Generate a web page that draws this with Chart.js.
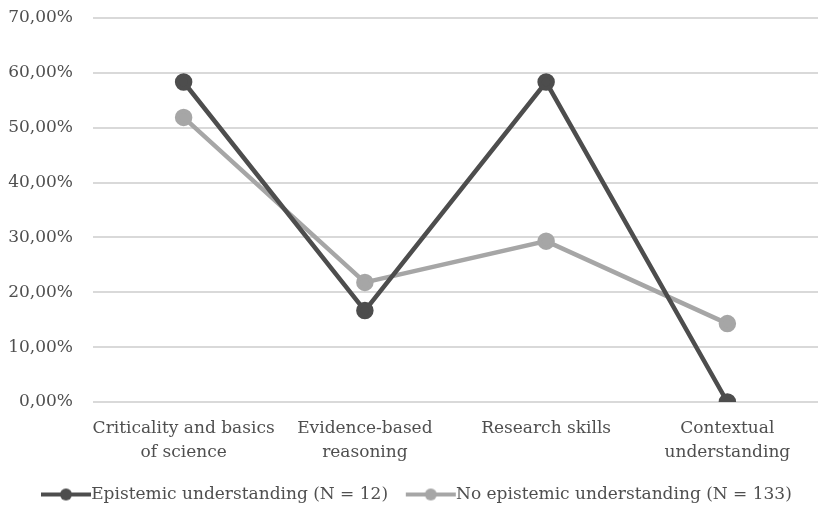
<!DOCTYPE html>
<html>
<head>
<meta charset="utf-8">
<script src="https://cdn.jsdelivr.net/npm/chart.js@4"></script>
<style>
  html, body { margin: 0; padding: 0; background: #ffffff; }
  #wrap { width: 818px; height: 509px; }
</style>
</head>
<body>
<div id="wrap"><canvas id="grafico"></canvas></div>
<script>
const categorias = [
    ['Criticality and basics', 'of science'],
    ['Evidence-based', 'reasoning'],
    'Research skills',
    ['Contextual', 'understanding']
]
const epistemico = [58.33, 16.67, 58.33, 0]
const no_epistemico = [51.88, 21.80, 29.32, 14.29]
const nombres = ['Epistemic understanding (N = 12)', 'No epistemic understanding (N = 133)']

const oscuro = '#4d4d4d'
const claro = '#a6a6a6'
const texto = '#4f4f4f'
const fuente = "'DejaVu Serif', serif"

// icono de leyenda: linea con punto en medio, pegada al texto
function icono(color) {
    const c = document.createElement('canvas')
    c.width = 70
    c.height = 14
    const ctx = c.getContext('2d')
    ctx.strokeStyle = color
    ctx.lineWidth = 4
    ctx.beginPath()
    ctx.moveTo(19, 7)
    ctx.lineTo(69, 7)
    ctx.stroke()
    ctx.fillStyle = color
    ctx.beginPath()
    ctx.arc(44, 7, 6, 0, Math.PI * 2)
    ctx.fill()
    return c
}

const ctx = document.getElementById('grafico').getContext('2d')

new Chart(ctx, {
    type: 'line',
    data: {
        labels: categorias,
        datasets: [{
            label: nombres[0],
            data: epistemico,
            borderColor: oscuro,
            backgroundColor: oscuro,
            borderWidth: 4.5,
            pointRadius: 6.5,
            pointStyle: 'circle'
        }, {
            label: nombres[1],
            data: no_epistemico,
            borderColor: claro,
            backgroundColor: claro,
            borderWidth: 4.5,
            pointRadius: 6.5,
            pointStyle: 'circle'
        }]
    },
    options: {
        responsive: true,
        maintainAspectRatio: false,
        animation: false,
        layout: { autoPadding: false, padding: { top: 18, right: -5, bottom: -4, left: 0 } },
        scales: {
            x: {
                offset: true,
                afterFit: (scale) => {
                    scale.height = 76
                    scale.paddingLeft = 0
                    scale.paddingRight = 0
                },
                grid: { display: false },
                border: { display: false },
                ticks: {
                    color: texto,
                    font: { family: fuente, size: 17, lineHeight: 1.4 },
                    maxRotation: 0,
                    autoSkip: false,
                    padding: 7
                }
            },
            y: {
                min: 0,
                max: 70,
                afterFit: (scale) => {
                    scale.width = 93
                    scale.paddingTop = 0
                    scale.paddingBottom = 0
                },
                grid: { color: '#d9d9d9', lineWidth: 2, drawTicks: false },
                border: { display: false },
                ticks: {
                    stepSize: 10,
                    color: texto,
                    font: { family: fuente, size: 17 },
                    padding: 20,
                    callback: (v) => v.toFixed(2).replace('.', ',') + '%'
                }
            }
        },
        plugins: {
            legend: {
                position: 'bottom',
                labels: {
                    usePointStyle: true,
                    pointStyleWidth: 51.5,
                    color: texto,
                    font: { family: fuente, size: 17 },
                    padding: 8,
                    generateLabels: (chart) => chart.data.datasets.map((ds, i) => ({
                        text: ds.label,
                        pointStyle: icono(ds.borderColor),
                        fillStyle: ds.borderColor,
                        strokeStyle: ds.borderColor,
                        fontColor: texto,
                        lineWidth: 0,
                        datasetIndex: i
                    }))
                }
            },
            tooltip: { enabled: false }
        }
    }
});
</script>
</body>
</html>
